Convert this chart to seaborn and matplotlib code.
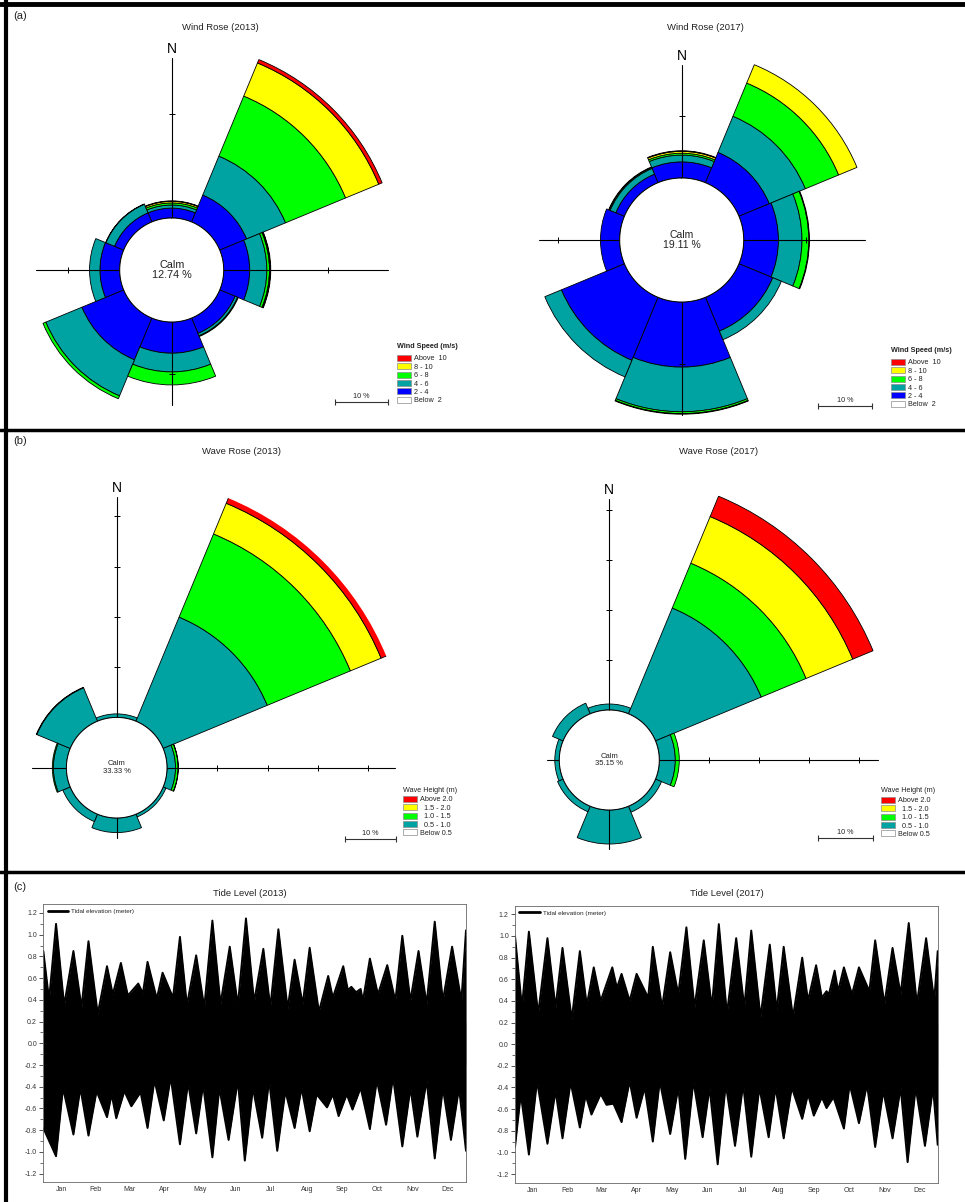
import numpy as np
import matplotlib
matplotlib.use("Agg")
import matplotlib.pyplot as plt
import seaborn as sns
from matplotlib.lines import Line2D
from matplotlib.patches import Patch
from matplotlib.ticker import MultipleLocator

sns.set_theme(style="white")
plt.rcParams["font.family"] = ["Liberation Sans", "DejaVu Sans"]

# ---------------- data ----------------
DIRECTIONS = ["N", "NE", "E", "SE", "S", "SW", "W", "NW"]

# Wind rose 2013 (% per direction, stacked from the calm circle outwards)
wind13_2_4 = [1.9, 5.6, 5.0, 3.2, 6.0, 8.7, 3.8, 1.9]
wind13_4_6 = [0.6, 8.1, 3.3, 0.5, 3.6, 7.5, 2.0, 1.8]
wind13_6_8 = [0.4, 12.5, 0.5, 0.15, 2.5, 0.6, 0.0, 0.05]
wind13_8_10 = [0.3, 6.9, 0.15, 0.0, 0.0, 0.0, 0.0, 0.0]
wind13_10p = [0.1, 0.7, 0.1, 0.0, 0.0, 0.0, 0.0, 0.0]
wind13_calm = "12.74 %"

# Wind rose 2017
wind17_2_4 = [2.6, 5.3, 5.6, 5.9, 10.5, 11.0, 3.1, 1.5]
wind17_4_6 = [1.1, 6.3, 3.8, 1.5, 7.2, 2.9, 0.0, 1.0]
wind17_6_8 = [0.3, 5.8, 1.1, 0.0, 0.3, 0.0, 0.0, 0.15]
wind17_8_10 = [0.3, 3.2, 0.1, 0.0, 0.1, 0.0, 0.0, 0.1]
wind17_10p = [0.1, 0.0, 0.0, 0.0, 0.0, 0.0, 0.0, 0.0]
wind17_calm = "19.11 %"

# Wave rose 2013
wave13_05_10 = [0.7, 22.4, 1.7, 0.6, 2.9, 1.6, 2.6, 7.2]
wave13_10_15 = [0.0, 17.9, 0.5, 0.0, 0.0, 0.0, 0.2, 0.1]
wave13_15_20 = [0.0, 6.6, 0.05, 0.0, 0.0, 0.0, 0.0, 0.0]
wave13_20p = [0.0, 1.8, 0.0, 0.0, 0.0, 0.0, 0.0, 0.0]
wave13_calm = "33.33 %"

# Wave rose 2017
wave17_05_10 = [1.2, 22.9, 3.2, 1.3, 6.8, 1.2, 0.9, 2.3]
wave17_10_15 = [0.0, 9.7, 0.8, 0.0, 0.0, 0.0, 0.0, 0.0]
wave17_15_20 = [0.0, 10.1, 0.0, 0.0, 0.0, 0.0, 0.0, 0.0]
wave17_20p = [0.0, 4.4, 0.0, 0.0, 0.0, 0.0, 0.0, 0.0]
wave17_calm = "35.15 %"

wind_labels = ["Above  10", "8 - 10", "6 - 8", "4 - 6", "2 - 4", "Below  2"]
wave_labels = ["Above 2.0", "  1.5 - 2.0", "  1.0 - 1.5", "  0.5 - 1.0", "Below 0.5"]

# Tide envelopes (day of year, metres): peaks / troughs of the high- and low-water envelopes
tide13_up_day = [0, 5, 11, 18, 26, 33, 39, 47, 55, 60, 67, 73, 82, 86, 90, 98, 103, 112, 118, 124,
                 132, 139, 146, 153, 161, 168, 175, 182, 190, 196, 203, 211, 217, 224, 230, 238, 246, 250, 259, 263,
                 266, 270, 274, 276, 282, 289, 297, 304, 310, 317, 324, 331, 338, 345, 353, 361, 365]
tide13_up = [0.85, 0.40, 1.10, 0.35, 0.85, 0.33, 0.94, 0.27, 0.71, 0.45, 0.74, 0.44, 0.55, 0.46, 0.75, 0.41, 0.65, 0.42, 0.98, 0.35,
             0.81, 0.33, 1.13, 0.36, 0.89, 0.35, 1.15, 0.38, 0.87, 0.33, 1.05, 0.32, 0.77, 0.36, 0.88, 0.29, 0.62, 0.42, 0.71, 0.49,
             0.52, 0.47, 0.50, 0.39, 0.78, 0.45, 0.72, 0.39, 0.99, 0.39, 0.85, 0.36, 1.12, 0.39, 0.89, 0.39, 1.04]
tide13_lo_day = [0, 11, 17, 26, 32, 39, 46, 55, 59, 63, 70, 76, 84, 90, 96, 104, 110, 118, 125, 132,
                 138, 146, 152, 160, 168, 174, 181, 189, 195, 202, 209, 217, 223, 230, 236, 245, 250, 255, 262, 267,
                 274, 282, 288, 296, 302, 310, 317, 323, 331, 338, 345, 352, 359, 365]
tide13_lo = [-0.78, -1.04, -0.41, -0.84, -0.41, -0.85, -0.44, -0.68, -0.47, -0.69, -0.44, -0.58, -0.45, -0.78, -0.34, -0.71, -0.31, -0.93, -0.36, -0.83,
             -0.38, -1.05, -0.41, -0.89, -0.34, -1.08, -0.41, -0.87, -0.34, -0.99, -0.44, -0.78, -0.41, -0.81, -0.47, -0.59, -0.47, -0.67, -0.47, -0.61,
             -0.41, -0.79, -0.34, -0.75, -0.31, -0.95, -0.41, -0.86, -0.34, -1.06, -0.41, -0.89, -0.41, -0.99]

tide17_up_day = [0, 6, 12, 20, 28, 35, 41, 49, 56, 62, 68, 74, 84, 88, 92, 99, 105, 115, 119, 127,
                 134, 141, 148, 155, 163, 170, 176, 183, 191, 198, 204, 212, 220, 226, 232, 240, 248, 253, 260, 265,
                 269, 271, 276, 279, 284, 291, 297, 306, 311, 319, 326, 333, 340, 347, 355, 362, 365]
tide17_up = [1.00, 0.34, 1.04, 0.28, 0.98, 0.34, 0.89, 0.23, 0.86, 0.36, 0.71, 0.40, 0.71, 0.52, 0.65, 0.40, 0.65, 0.43, 0.90, 0.34,
             0.85, 0.46, 1.08, 0.34, 0.96, 0.34, 1.11, 0.28, 0.98, 0.34, 1.05, 0.25, 0.92, 0.31, 0.90, 0.25, 0.80, 0.40, 0.73, 0.43,
             0.49, 0.46, 0.68, 0.49, 0.71, 0.46, 0.71, 0.49, 0.96, 0.37, 0.89, 0.46, 1.12, 0.37, 0.98, 0.40, 0.86]
tide17_lo_day = [0, 5, 12, 19, 28, 35, 41, 48, 56, 61, 66, 74, 79, 85, 92, 99, 105, 112, 119, 125,
                 134, 141, 147, 154, 162, 168, 175, 182, 190, 197, 204, 211, 219, 225, 232, 239, 248, 253, 258, 265,
                 269, 275, 284, 289, 297, 304, 311, 318, 326, 333, 339, 346, 354, 361, 365]
tide17_lo = [-0.95, -0.46, -1.02, -0.34, -0.92, -0.43, -0.87, -0.35, -0.77, -0.47, -0.65, -0.46, -0.56, -0.55, -0.72, -0.34, -0.68, -0.40, -0.90, -0.34,
             -0.83, -0.40, -1.06, -0.34, -0.86, -0.40, -1.11, -0.37, -0.94, -0.37, -1.04, -0.40, -0.86, -0.40, -0.87, -0.40, -0.69, -0.46, -0.66, -0.49,
             -0.59, -0.49, -0.78, -0.37, -0.73, -0.37, -0.95, -0.43, -0.87, -0.40, -1.09, -0.40, -0.94, -0.40, -0.93]

months = ["Jan", "Feb", "Mar", "Apr", "May", "Jun", "Jul", "Aug", "Sep", "Oct", "Nov", "Dec"]
month_mid_day = [15.5, 45, 74.5, 105, 135.5, 166, 196.5, 227.5, 258, 288.5, 319, 349.5]
tide_yticks = [-1.2, -1.0, -0.8, -0.6, -0.4, -0.2, 0.0, 0.2, 0.4, 0.6, 0.8, 1.0, 1.2]

# ---------------- style ----------------
C_RED, C_YEL, C_GRN, C_TEAL, C_BLUE = "#ff0000", "#ffff00", "#00ff00", "#00a2a2", "#0000ff"
TXT = "#222222"
W, H = 965, 1202
fig = plt.figure(figsize=(W / 100, H / 100), dpi=100)
fig.patch.set_facecolor("white")


def fx(x):
    return x / W


def fy(y):
    return 1 - y / H


def rose(cx, cy, ppu, rmax, bands, colors, calm, calm_fs, axis_len, ticks):
    r0 = 10.0
    size = 2 * rmax * ppu
    ax = fig.add_axes([fx(cx - size / 2), fy(cy + size / 2), size / W, size / H], projection="polar")
    ax.set_theta_zero_location("N")
    ax.set_theta_direction(-1)
    ax.set_ylim(0, rmax)
    ax.set_axis_off()
    theta = np.deg2rad(np.arange(len(DIRECTIONS)) * 45.0)
    bottom = np.full(len(DIRECTIONS), r0)
    for vals, col in zip(bands, colors):
        v = np.asarray(vals, float)
        m = v > 0
        ax.bar(theta[m], v[m], width=np.deg2rad(45), bottom=bottom[m], color=col,
               edgecolor="black", linewidth=0.6, zorder=2)
        bottom = bottom + v
    # compass cross
    angs = {"N": 0.0, "E": np.pi / 2, "S": np.pi, "W": 1.5 * np.pi}
    for k, th in angs.items():
        ax.plot([th, th], [0, axis_len[k]], color="black", lw=0.8, zorder=3)
        if ticks[k]:
            mk = "_" if k in ("N", "S") else "|"
            ax.plot([th] * len(ticks[k]), ticks[k], ls="none", marker=mk, ms=4.5, mew=0.7,
                    color="black", zorder=3)
    # calm circle
    ax.bar(0, r0, width=2 * np.pi, bottom=0, color="white", edgecolor="none", zorder=4)
    t = np.linspace(0, 2 * np.pi, 361)
    ax.plot(t, np.full_like(t, r0), color="black", lw=0.7, zorder=4.5)
    ax.text(0, 0, "Calm\n" + calm, ha="center", va="center", fontsize=calm_fs, zorder=5,
            linespacing=1.1, color=TXT)
    ax.text(0, axis_len["N"] + 9 / ppu, "N", ha="center", va="center", fontsize=10, color="black")
    return ax


wind_colors = [C_BLUE, C_TEAL, C_GRN, C_YEL, C_RED]
wave_colors = [C_TEAL, C_GRN, C_YEL, C_RED]

rose(171.7, 270, 5.2, 45,
     [wind13_2_4, wind13_4_6, wind13_6_8, wind13_8_10, wind13_10p], wind_colors, wind13_calm, 7.8,
     {"N": 40.8, "E": 41.5, "S": 26, "W": 26}, {"N": [30], "E": [30], "S": [20], "W": [20]})
rose(681.7, 240, 6.2, 32,
     [wind17_2_4, wind17_4_6, wind17_6_8, wind17_8_10, wind17_10p], wind_colors, wind17_calm, 7.5,
     {"N": 28.2, "E": 29.5, "S": 28.2, "W": 23}, {"N": [20], "E": [20], "S": [20], "W": [20]})
rose(116.7, 767.7, 5.03, 58,
     [wave13_05_10, wave13_10_15, wave13_15_20, wave13_20p], wave_colors, wave13_calm, 5.5,
     {"N": 53.8, "E": 55.3, "S": 14, "W": 16.9}, {"N": [20, 30, 40, 50], "E": [20, 30, 40, 50], "S": [], "W": []})
rose(609.3, 760, 5.0, 58,
     [wave17_05_10, wave17_10_15, wave17_15_20, wave17_20p], wave_colors, wave17_calm, 5.5,
     {"N": 52.3, "E": 53.8, "S": 17.7, "W": 12.5}, {"N": [20, 30, 40, 50], "E": [20, 30, 40, 50], "S": [], "W": []})

# titles
for txt, x, y in [("Wind Rose (2013)", 220, 27), ("Wind Rose (2017)", 705, 28),
                  ("Wave Rose (2013)", 242, 452), ("Wave Rose (2017)", 719, 452),
                  ("Tide Level (2013)", 250, 893), ("Tide Level (2017)", 727, 893)]:
    fig.text(fx(x), fy(y), txt, ha="center", va="center", fontsize=6.8, color=TXT)

for txt, y in [("(a)", 16), ("(b)", 441), ("(c)", 887)]:
    fig.text(fx(13), fy(y), txt, ha="left", va="center", fontsize=8, color=TXT)


# legends and scale bars
def rose_legend(x, y_title, y_first, title, labels, colors, bold):
    fig.text(fx(x), fy(y_title), title, ha="left", va="center", fontsize=5.2,
             fontweight="bold" if bold else "normal", color=TXT)
    handles = [Patch(facecolor=c, edgecolor="0.55", linewidth=0.5, label=l) for c, l in zip(colors, labels)]
    fig.legend(handles=handles, loc="upper left", bbox_to_anchor=(fx(x), fy(y_first)), frameon=False,
               fontsize=5.2, handlelength=1.9, handleheight=0.9, labelspacing=0.12,
               handletextpad=0.4, borderpad=0, borderaxespad=0, labelcolor=TXT)


def scale_bar(x0, x1, y):
    fig.add_artist(Line2D([fx(x0), fx(x1)], [fy(y), fy(y)], color="#333333", lw=0.8,
                          marker="|", ms=5, mew=0.8))
    fig.text(fx((x0 + x1) / 2), fy(y - 2), "10 %", ha="center", va="bottom", fontsize=5.2, color=TXT)


wind_leg_colors = [C_RED, C_YEL, C_GRN, C_TEAL, C_BLUE, "white"]
wave_leg_colors = [C_RED, C_YEL, C_GRN, C_TEAL, "white"]
rose_legend(397, 347, 355, "Wind Speed (m/s)", wind_labels, wind_leg_colors, True)
rose_legend(891, 351, 359, "Wind Speed (m/s)", wind_labels, wind_leg_colors, True)
rose_legend(403, 790, 796, "Wave Height (m)", wave_labels, wave_leg_colors, False)
rose_legend(881, 791, 797, "Wave Height (m)", wave_labels, wave_leg_colors, False)
scale_bar(335, 388, 402)
scale_bar(818, 872, 406)
scale_bar(345, 396, 839)
scale_bar(818, 873, 838)


# tide panels
def tide(left, right, top, bottom, up_day, up, lo_day, lo):
    ax = fig.add_axes([fx(left), fy(bottom), (right - left) / W, (bottom - top) / H])
    # fills overlap across the zero line so no seam appears
    ax.fill_between(up_day, up, -0.2, color="black", lw=0)
    ax.fill_between(lo_day, lo, 0.2, color="black", lw=0)
    sns.lineplot(x=up_day, y=up, ax=ax, color="black", lw=1.4, label="Tidal elevation (meter)")
    sns.lineplot(x=lo_day, y=lo, ax=ax, color="black", lw=1.4, legend=False)
    ax.set_xlim(0, 365)
    ax.set_ylim(-1.28, 1.28)
    ax.set_yticks(tide_yticks)
    ax.set_yticklabels([f"{v:.1f}" for v in tide_yticks])
    ax.yaxis.set_minor_locator(MultipleLocator(0.1))
    ax.set_xticks(month_mid_day)
    ax.set_xticklabels(months)
    ax.tick_params(axis="y", which="major", direction="out", length=3, width=0.6, labelsize=5,
                   left=True, pad=1.5, colors="#333333")
    ax.tick_params(axis="y", which="minor", direction="out", length=2, width=0.5, left=True, colors="#333333")
    ax.tick_params(axis="x", length=0, labelsize=5, pad=3, colors="#333333")
    ax.set_xlabel("")
    ax.set_ylabel("")
    for s in ax.spines.values():
        s.set_color("#666666")
        s.set_linewidth(0.6)
    leg = ax.legend(loc="upper left", frameon=False, fontsize=4.6, handlelength=3.2,
                    borderaxespad=0.5, borderpad=0.2, handletextpad=0.5)
    for ln in leg.get_lines():
        ln.set_linewidth(2)
    return ax


tide(43.3, 466, 904.3, 1182.3, tide13_up_day, tide13_up, tide13_lo_day, tide13_lo)
tide(515, 937.7, 905.7, 1182.7, tide17_up_day, tide17_up, tide17_lo_day, tide17_lo)

# panel frames
for (x0, y0, x1, y1, lw) in [(0, 4, W, 4, 3.5), (6, 0, 6, H, 3.0), (0, 430, W, 430, 2.5), (0, 872, W, 872, 2.5)]:
    fig.add_artist(Line2D([fx(x0), fx(x1)], [fy(y0), fy(y1)], color="black", lw=lw))

fig.savefig("out.png", dpi=100, facecolor="white")
